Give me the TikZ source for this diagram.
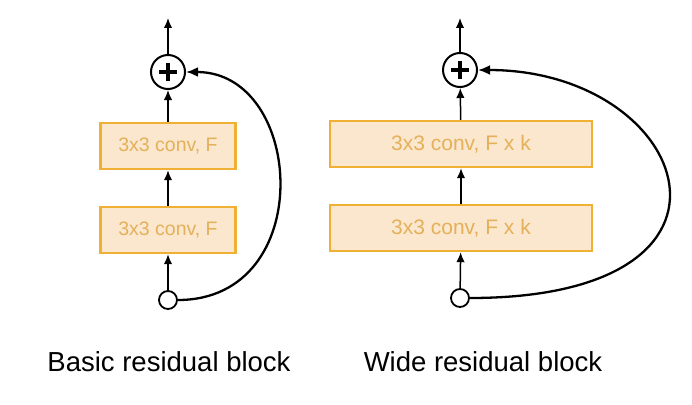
\documentclass[tikz,border=0pt]{standalone}
\usepackage{fontspec}
\setmainfont{Liberation Sans}
\usetikzlibrary{arrows.meta}
\definecolor{convFill}{RGB}{250,231,206}
\definecolor{convEdge}{RGB}{240,176,52}
\definecolor{convText}{RGB}{228,176,90}
\begin{document}
\begin{tikzpicture}[x=1pt,y=-1pt,
  convbox/.style={draw=convEdge, fill=convFill, line width=2.4pt, text=convText, font={\fontsize{21}{21}\selectfont}, minimum height=46pt, inner sep=0pt},
  sumnode/.style={circle, draw, line width=2pt, minimum size=34pt, inner sep=0pt,
    path picture={\draw[line width=4pt] ([xshift=-9pt]path picture bounding box.center) -- ([xshift=9pt]path picture bounding box.center);
                  \draw[line width=4pt] ([yshift=-9pt]path picture bounding box.center) -- ([yshift=9pt]path picture bounding box.center);}},
  innode/.style={circle, draw, line width=1.8pt, minimum size=18pt, inner sep=0pt},
  flow/.style={-{Latex[length=10pt,width=8.5pt]}, line width=1.5pt},
  skip/.style={-{Latex[length=12pt,width=10pt]}, line width=2.3pt},
  caption/.style={font={\fontsize{27.5}{27.5}\selectfont}, anchor=base}]
\useasboundingbox (0,0) rectangle (692,404);
% basic residual block
\coordinate (outL) at (168,18);
\node[sumnode] (sumL) at (168,72) {};
\node[convbox, minimum width=135pt, font={\fontsize{19.5}{19.5}\selectfont}] (convL2) at (168,146) {3x3 conv, F};
\node[convbox, minimum width=135pt, font={\fontsize{19.5}{19.5}\selectfont}] (convL1) at (168,230) {3x3 conv, F};
\node[innode] (inL) at (168,300) {};
\draw[flow] (inL) -- (convL1);
\draw[flow] (convL1) -- (convL2);
\draw[flow] (convL2) -- (sumL);
\draw[flow] (sumL) -- (outL);
\draw[skip] (inL.east) .. controls (318,300) and (305,72) .. (sumL.east);
\node[caption] (capL) at (169,371) {Basic residual block};
% wide residual block
\coordinate (outR) at (460,18);
\node[sumnode] (sumR) at (460,70) {};
\node[convbox, minimum width=262pt] (convR2) at (461,144) {3x3 conv, F x k};
\node[convbox, minimum width=262pt] (convR1) at (461,228) {3x3 conv, F x k};
\node[innode] (inR) at (460,298) {};
\draw[flow] (inR) -- (convR1);
\draw[flow] (convR1) -- (convR2);
\draw[flow] (convR2) -- (sumR);
\draw[flow] (sumR) -- (outR);
\draw[skip] (inR.east) .. controls (775,298) and (690,70) .. (sumR.east);
\node[caption] (capR) at (483,371) {Wide residual block};
\end{tikzpicture}
\end{document}
